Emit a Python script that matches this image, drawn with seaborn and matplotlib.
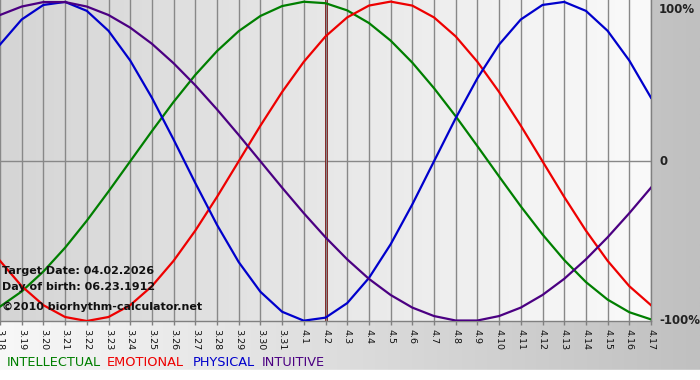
import numpy as np
import pandas as pd
import matplotlib
matplotlib.use("Agg")
import matplotlib.pyplot as plt
import seaborn as sns
from matplotlib.colors import LinearSegmentedColormap

# ---------------- data ----------------
days = ["3.18", "3.19", "3.20", "3.21", "3.22", "3.23", "3.24", "3.25", "3.26",
        "3.27", "3.28", "3.29", "3.30", "3.31", "4.1", "4.2", "4.3", "4.4",
        "4.5", "4.6", "4.7", "4.8", "4.9", "4.10", "4.11", "4.12", "4.13",
        "4.14", "4.15", "4.16", "4.17"]

intellectual = [-0.910, -0.815, -0.690, -0.541, -0.372, -0.189, 0.000, 0.189,
                0.372, 0.541, 0.690, 0.815, 0.910, 0.972, 0.999, 0.990, 0.945,
                0.866, 0.756, 0.618, 0.458, 0.282, 0.095, -0.095, -0.282,
                -0.458, -0.618, -0.756, -0.866, -0.945, -0.990]

emotional = [-0.623, -0.782, -0.901, -0.975, -1.000, -0.975, -0.901, -0.782,
             -0.623, -0.434, -0.223, 0.000, 0.223, 0.434, 0.623, 0.782, 0.901,
             0.975, 1.000, 0.975, 0.901, 0.782, 0.623, 0.434, 0.223, 0.000,
             -0.223, -0.434, -0.623, -0.782, -0.901]

physical = [0.731, 0.888, 0.979, 0.998, 0.942, 0.817, 0.631, 0.398, 0.136,
            -0.136, -0.398, -0.631, -0.817, -0.942, -0.998, -0.979, -0.888,
            -0.731, -0.520, -0.270, 0.000, 0.270, 0.520, 0.731, 0.888, 0.979,
            0.998, 0.942, 0.817, 0.631, 0.398]

intuitive = [0.916, 0.969, 0.997, 0.997, 0.969, 0.916, 0.837, 0.736, 0.614,
             0.476, 0.325, 0.165, 0.000, -0.165, -0.325, -0.476, -0.614,
             -0.736, -0.837, -0.916, -0.969, -0.997, -0.997, -0.969, -0.916,
             -0.837, -0.736, -0.614, -0.476, -0.325, -0.165]

series_names = ["INTELLECTUAL", "EMOTIONAL", "PHYSICAL", "INTUITIVE"]
series_colors = ["#007f00", "#ee0000", "#0000cc", "#4b0082"]
target_day = "4.2"
right_labels = ["100%", "0", "-100%"]
right_values = [1, 0, -1]
info_lines = ["Target Date: 04.02.2026", "Day of birth: 06.23.1912",
              "\u00a92010 biorhythm-calculator.net"]

# ---------------- table ----------------
idx = np.arange(len(days))
df = pd.concat([
    pd.DataFrame({"day": idx, "value": vals, "series": name})
    for name, vals in zip(series_names, [intellectual, emotional, physical, intuitive])
], ignore_index=True)

# ---------------- figure ----------------
W, H = 700, 380
fig = plt.figure(figsize=(W / 100, H / 100), dpi=100)

# figure background gradient
bg = fig.add_axes([0, 0, 1, 1], zorder=0)
bg_cmap = LinearSegmentedColormap.from_list("bg", ["#f8f8f8", "#c0c0c0"])
bg.imshow(np.linspace(0, 1, 256).reshape(1, -1), aspect="auto", cmap=bg_cmap,
          extent=[0, 1, 0, 1])
bg.axhspan(0, 10 / H, color="white")
bg.set_xlim(0, 1)
bg.set_ylim(0, 1)
bg.axis("off")

ax = fig.add_axes([0, 1 - 321 / H, 651 / W, 321 / H], zorder=1)
ax.set_xlim(0, len(days) - 1)
ax.set_ylim(-1.0, 1.01)

# plot-area gradient
pa_cmap = LinearSegmentedColormap.from_list("pa", ["#d5d5d5", "#fafafa"])
ax.imshow(np.linspace(0, 1, 256).reshape(1, -1), aspect="auto", cmap=pa_cmap,
          extent=[0, len(days) - 1, -1.0, 1.01], zorder=0)

ax.set_xticks(idx)
ax.set_xticklabels(days, rotation=270, fontsize=6.8, color="#111111",
                   family=["Liberation Sans Narrow", "DejaVu Sans"])
ax.tick_params(axis="x", length=3, width=1, color="#808080", pad=3)
ax.set_yticks([])
ax.grid(axis="x", color="#888888", linewidth=1, zorder=1)
ax.set_axisbelow(False)
ax.axhline(0, color="#888888", linewidth=1, zorder=1)

for s in ["left", "top"]:
    ax.spines[s].set_visible(False)
for s in ["bottom", "right"]:
    ax.spines[s].set_color("#808080")
    ax.spines[s].set_linewidth(1)

ax.axvline(days.index(target_day), color="#7a0000", linewidth=2, zorder=2)

sns.lineplot(data=df, x="day", y="value", hue="series", hue_order=series_names,
             palette=series_colors, linewidth=1.6, legend=False, ax=ax, zorder=3)
ax.set_xlabel("")
ax.set_ylabel("")

# right-side labels
for lab, val in zip(right_labels, right_values):
    va = "top" if val == 1 else "center"
    dy = -1 if val == 1 else 0
    ax.annotate(lab, xy=(1, val), xycoords=("axes fraction", "data"),
                xytext=(8, dy), textcoords="offset pixels", ha="left", va=va,
                fontsize=8.5, fontweight="bold", color="#222222", annotation_clip=False)

# info text
for t, y in zip(info_lines, [271, 287, 307]):
    fig.text(2 / W, 1 - y / H, t, ha="left", va="center", fontsize=8,
             fontweight="bold", color="#111111", zorder=5)

# legend words
for name, col, x in zip(series_names, series_colors, [7, 107, 193, 262]):
    fig.text(x / W, 1 - 362 / H, name, ha="left", va="center", fontsize=9.3,
             color=col, zorder=5)

fig.savefig("out.png", dpi=100)
